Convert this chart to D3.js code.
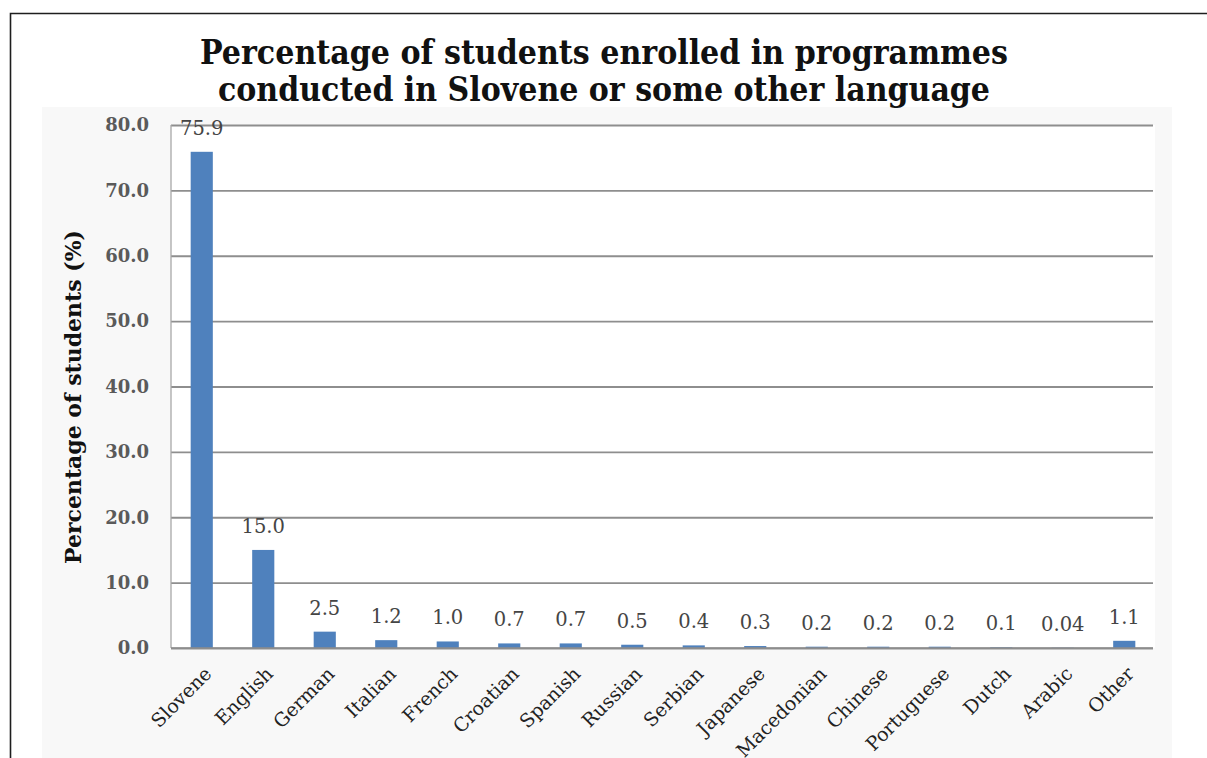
<!DOCTYPE html>
<html>
<head>
<meta charset="utf-8">
<script src="https://cdn.jsdelivr.net/npm/d3@7"></script>
<style>
  html, body { margin: 0; padding: 0; background: #ffffff; }
  svg { display: block; }
</style>
</head>
<body>
<svg id="chart" width="1207" height="758"></svg>
<script>
// Share of students by language of instruction
const languages = ["Slovene", "English", "German", "Italian", "French", "Croatian", "Spanish",
  "Russian", "Serbian", "Japanese", "Macedonian", "Chinese", "Portuguese", "Dutch", "Arabic", "Other"];
const shares = [75.9, 15.0, 2.5, 1.2, 1.0, 0.7, 0.7, 0.5, 0.4, 0.3, 0.2, 0.2, 0.2, 0.1, 0.04, 1.1];
const yTicks = [0, 10, 20, 30, 40, 50, 60, 70, 80];
const titleLines = ["Percentage of students enrolled in programmes",
  "conducted in Slovene or some other language"];
const yTitle = "Percentage of students (%)";

const svg = d3.select("#chart");
const W = 1207, H = 758;

// outer frame (top and left rules)
svg.append("path")
  .attr("d", `M10.5,${H} V13.5 H${W}`)
  .attr("fill", "none")
  .attr("stroke", "#1e1e1e")
  .attr("stroke-width", 1.6);

// light chart panel
svg.append("rect")
  .attr("x", 42).attr("y", 107)
  .attr("width", 1130).attr("height", H - 107)
  .attr("fill", "#f8f8f8");

// title
const title = svg.append("g").attr("font-family", "DejaVu Serif")
  .attr("font-weight", "bold").attr("font-size", 33).attr("fill", "#111");
title.append("text").attr("x", 604).attr("y", 64).attr("text-anchor", "middle")
  .attr("textLength", 808).attr("lengthAdjust", "spacingAndGlyphs").text(titleLines[0]);
title.append("text").attr("x", 604).attr("y", 101).attr("text-anchor", "middle")
  .attr("textLength", 772).attr("lengthAdjust", "spacingAndGlyphs").text(titleLines[1]);

// plot area
const plotLeft = 171, plotRight = 1155, plotTop = 125, plotBottom = 648;

svg.append("rect")
  .attr("x", plotLeft).attr("y", plotTop)
  .attr("width", plotRight - plotLeft).attr("height", plotBottom - plotTop)
  .attr("fill", "#ffffff");

const x = d3.scaleBand()
  .domain(languages)
  .range([plotLeft, plotRight])
  .paddingInner(0.64)
  .paddingOuter(0.32);

const y = d3.scaleLinear()
  .domain([0, 80])
  .range([plotBottom, plotTop]);

// horizontal gridlines
svg.append("g")
  .attr("transform", `translate(${plotLeft},0)`)
  .call(d3.axisLeft(y).tickValues(yTicks).tickSize(-(plotRight - plotLeft - 2)).tickFormat(""))
  .call(g => g.select(".domain").remove())
  .call(g => g.selectAll(".tick line").attr("stroke", "#8e8e8e").attr("stroke-width", 1.8));

// vertical axis line
svg.append("line")
  .attr("x1", plotLeft).attr("x2", plotLeft)
  .attr("y1", plotTop).attr("y2", plotBottom)
  .attr("stroke", "#a8a8a8").attr("stroke-width", 1.3);

// y tick labels
svg.append("g")
  .attr("transform", `translate(${plotLeft},0)`)
  .call(d3.axisLeft(y).tickValues(yTicks).tickSize(0).tickPadding(22).tickFormat(d3.format(".1f")))
  .call(g => g.select(".domain").remove())
  .call(g => g.selectAll("text")
    .attr("font-family", "DejaVu Serif")
    .attr("font-weight", "bold")
    .attr("font-size", 18)
    .attr("fill", "#5a5a5a"));

// y axis title
svg.append("text")
  .attr("transform", "translate(73,397) rotate(-90)")
  .attr("text-anchor", "middle")
  .attr("dy", "0.35em")
  .attr("font-family", "DejaVu Serif")
  .attr("font-weight", "bold")
  .attr("font-size", 22)
  .attr("fill", "#111")
  .text(yTitle);

// bars
svg.append("g").selectAll("rect")
  .data(languages)
  .join("rect")
  .attr("x", d => x(d))
  .attr("y", (d, i) => y(shares[i]))
  .attr("width", x.bandwidth())
  .attr("height", (d, i) => y(0) - y(shares[i]))
  .attr("fill", "#4f81bd");

// bottom axis line
svg.append("line")
  .attr("x1", plotLeft).attr("x2", plotRight - 2)
  .attr("y1", plotBottom).attr("y2", plotBottom)
  .attr("stroke", "#8c8c8c").attr("stroke-width", 1.6);

// value labels
const fmt = v => d3.format(v < 0.1 ? ".2f" : ".1f")(v);
svg.append("g").selectAll("text")
  .data(languages)
  .join("text")
  .attr("x", d => x(d) + x.bandwidth() / 2)
  .attr("y", (d, i) => y(shares[i]) - 17)
  .attr("text-anchor", "middle")
  .attr("font-family", "DejaVu Serif")
  .attr("font-size", 19.5)
  .attr("fill", "#454545")
  .text((d, i) => fmt(shares[i]));

// category labels
svg.append("g")
  .attr("transform", `translate(0,${plotBottom})`)
  .call(d3.axisBottom(x).tickSize(0).tickPadding(0))
  .call(g => g.select(".domain").remove())
  .call(g => g.selectAll("text")
    .attr("font-family", "DejaVu Serif")
    .attr("font-size", 19)
    .attr("fill", "#222")
    .attr("text-anchor", "end")
    .attr("y", 0).attr("dy", 0)
    .attr("transform", "translate(11,27) rotate(-45)"));
</script>
</body>
</html>
